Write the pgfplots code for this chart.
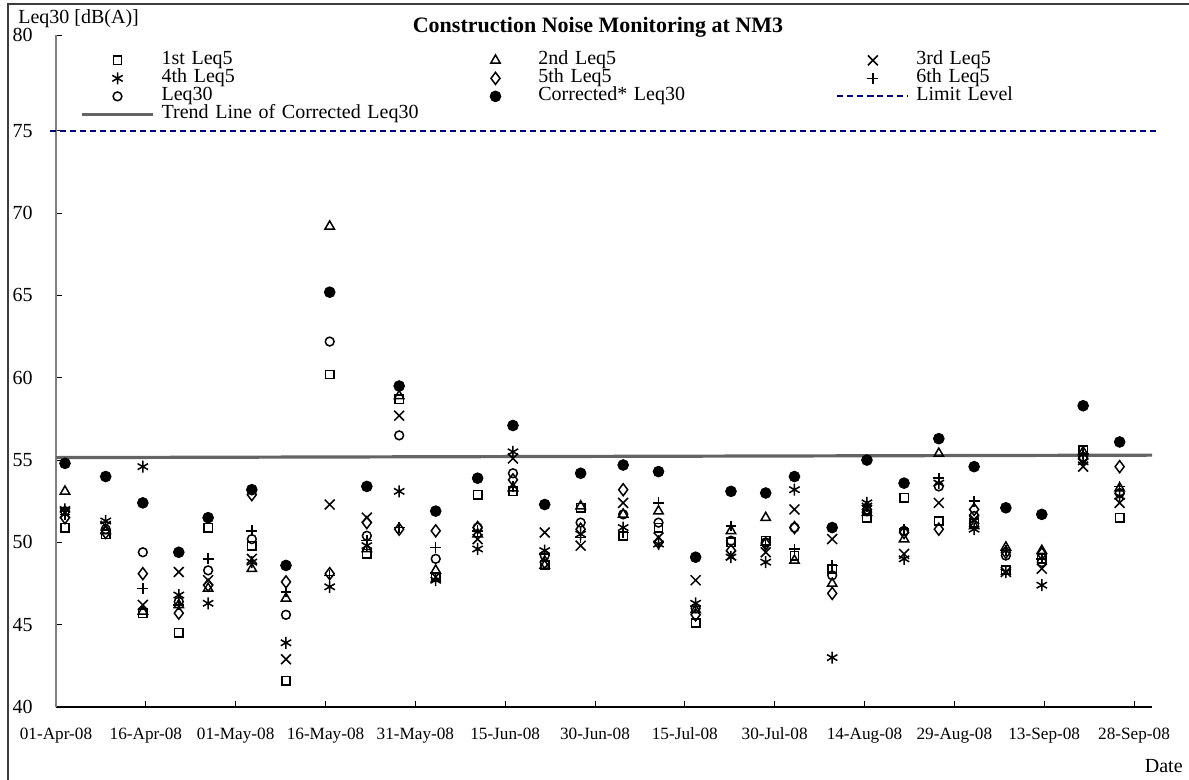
\documentclass[border=0pt]{standalone}
\usepackage{fontspec}
\setmainfont{Liberation Serif}
\usepackage{pgfplots}
\usepackage{pgfplotstable}
\pgfplotsset{compat=1.18}

\definecolor{limitblue}{RGB}{0,0,128}
\definecolor{trendgray}{RGB}{100,100,100}
\definecolor{framegray}{RGB}{60,60,60}

% legend sample: fixed width, mark in the middle
\newcommand\legimg[1]{%
  \path (0pt,0pt) (35.5pt,0pt);
  \draw[mark repeat=2,mark phase=2,#1] plot coordinates {(0pt,0pt) (17.75pt,0pt) (35.5pt,0pt)};}

% day = days after 01-Apr-08; six Leq5 readings, Leq30 and corrected Leq30 in dB(A)
\pgfplotstableread{
day    s1    s2    s3    s4    s5    s6    leq   corr
1.5    50.9  53.1  51.8  52.0  51.5  51.7  51.9  54.8
8.3    50.5  50.7  51.0  51.3  50.6  51.2  50.8  54.0
14.5   45.7  45.8  46.2  54.6  48.1  47.2  49.4  52.4
20.5   44.5  46.2  48.2  46.8  45.7  46.2  46.4  49.4
25.4   50.9  47.2  47.7  46.3  47.4  49.0  48.3  51.5
32.7   49.8  48.4  49.0  48.8  52.9  50.7  50.2  53.2
38.4   41.6  46.6  42.9  43.9  47.6  47.0  45.6  48.6
45.7   60.2  69.2  52.3  47.3  48.1  48.0  62.2  65.2
51.9   49.3  49.6  51.5  49.8  51.2  50.1  50.4  53.4
57.3   58.7  58.9  57.7  53.1  50.8  50.9  56.5  59.5
63.4   47.9  48.3  47.9  47.7  50.7  49.7  49.0  51.9
70.4   52.9  50.5  50.2  49.6  50.9  50.7  50.9  53.9
76.3   53.1  53.3  55.1  55.5  53.8  53.4  54.2  57.1
81.6   48.6  48.6  50.6  49.5  48.8  49.3  49.2  52.3
87.6   52.1  52.2  49.8  50.5  50.8  50.3  51.2  54.2
94.7   50.4  51.7  52.4  50.9  53.2  50.6  51.7  54.7
100.6  50.9  51.9  50.3  49.9  50.0  52.4  51.2  54.3
106.8  45.1  45.9  47.7  46.3  45.6  46.1  46.0  49.1
112.7  50.0  50.7  49.2  49.1  49.5  51.0  50.1  53.1
118.5  50.1  51.5  49.4  48.8  49.9  49.8  50.0  53.0
123.3  49.2  48.9  52.0  53.2  50.9  49.6  50.9  54.0
129.6  48.4  47.5  50.2  43.0  46.9  48.6  48.0  50.9
135.4  51.5  51.8  52.1  52.4  52.0  52.2  51.9  55.0
141.6  52.7  50.2  49.3  49.0  50.6  50.8  50.7  53.6
147.4  51.3  55.4  52.4  53.6  50.8  53.9  53.4  56.3
153.3  51.2  51.0  51.4  50.8  52.0  52.5  51.6  54.6
158.6  48.3  49.7  48.2  48.2  49.4  49.5  49.2  52.1
164.6  49.0  49.5  48.4  47.4  49.3  49.0  48.8  51.7
171.5  55.6  55.5  54.6  54.9  55.1  55.4  55.2  58.3
177.6  51.5  53.3  52.4  52.8  54.6  53.4  53.0  56.1
}\noisedata

\begin{document}
\begin{tikzpicture}
\useasboundingbox (0,0) rectangle (594.5pt,390pt);
\draw[framegray, line width=1pt] (4pt,-2pt) -- (4pt,388pt) -- (596pt,388pt);

\begin{axis}[
  at={(28pt,36.5pt)}, anchor=south west,
  scale only axis, width=548pt, height=335.8pt,
  xmin=0, xmax=183, ymin=40, ymax=80.8,
  axis x line=bottom, axis y line=left, axis line style={-},
  x axis line style={black, line width=0.7pt},
  y axis line style={gray, line width=0.9pt},
  tick align=inside, major tick length=2.8pt,
  tick style={black, line width=0.5pt},
  xtick={0,15,...,180},
  xticklabels={01-Apr-08,16-Apr-08,01-May-08,16-May-08,31-May-08,15-Jun-08,30-Jun-08,15-Jul-08,30-Jul-08,14-Aug-08,29-Aug-08,13-Sep-08,28-Sep-08},
  ytick={40,45,50,55,60,65,70,75,80.8},
  yticklabels={40,45,50,55,60,65,70,75,80},
  /pgf/number format/assume math mode=true,
  xticklabel style={font=\fontsize{8.6}{10}\selectfont, anchor=base, yshift=-16.5pt, inner sep=0pt},
  yticklabel style={font=\fontsize{10}{12}\selectfont, anchor=east, xshift=-11.5pt, inner sep=0pt},
  title={Construction Noise Monitoring at NM3},
  every axis title shift=0pt,
  title style={at={(axis description cs:0.4945,1.0036)}, anchor=base, inner sep=0pt, font=\fontsize{11}{13}\selectfont\bfseries},
  ylabel={Leq30 [dB(A)]},
  every axis y label/.style={at={(axis description cs:-0.0347,1.0170)}, anchor=base west, inner sep=0pt, font=\fontsize{10}{12}\selectfont},
  xlabel={Date},
  every axis x label/.style={at={(axis description cs:1.0283,-0.0968)}, anchor=base east, inner sep=0pt, font=\fontsize{10}{12}\selectfont},
  legend columns=3,
  legend cell align=left,
  legend image code/.code={\legimg{#1}},
  legend style={draw=none, fill=none, at={(axis description cs:0.0219,0.9768)}, anchor=north west,
    inner sep=0pt, row sep=0pt, column sep=3.5pt, font=\fontsize{10}{10}\selectfont,
    nodes={inner sep=0pt, text height=6.5pt, text depth=2.5pt, text width=145.5pt, align=left}},
  clip=false,
]
\addplot[only marks, mark=square, mark size=2.1pt, mark options={black, line width=0.75pt}] table[x=day,y=s1]{\noisedata};
\addlegendentry{1st Leq5}
\addplot[only marks, mark=triangle, mark size=2.7pt, mark options={black, line width=0.75pt}] table[x=day,y=s2]{\noisedata};
\addlegendentry{2nd Leq5}
\addplot[only marks, mark=x, mark size=3.5pt, mark options={black, line width=0.75pt}] table[x=day,y=s3]{\noisedata};
\addlegendentry{3rd Leq5}
\addplot[only marks, mark=asterisk, mark size=3pt, mark options={black, line width=0.75pt}] table[x=day,y=s4]{\noisedata};
\addlegendentry{4th Leq5}
\addplot[only marks, mark=diamond, mark size=3pt, mark options={black, line width=0.75pt}] table[x=day,y=s5]{\noisedata};
\addlegendentry{5th Leq5}
\addplot[only marks, mark=+, mark size=2.7pt, mark options={black, line width=0.75pt}] table[x=day,y=s6]{\noisedata};
\addlegendentry{6th Leq5}
\addplot[only marks, mark=o, mark size=2.2pt, mark options={black, line width=0.75pt}] table[x=day,y=leq]{\noisedata};
\addlegendentry{Leq30}
\addplot[only marks, mark=*, mark size=2.7pt, mark options={black, fill=black}] table[x=day,y=corr]{\noisedata};
\addlegendentry{Corrected* Leq30}
\addplot[limitblue, line width=1pt, dash pattern=on 3pt off 2pt] coordinates {(-1,75) (184,75)};
\addlegendentry{Limit Level}
\addplot[trendgray, line width=1.6pt] coordinates {(0,55.15) (183,55.3)};
\addlegendentry{Trend Line of Corrected Leq30}
\end{axis}
\end{tikzpicture}
\end{document}
